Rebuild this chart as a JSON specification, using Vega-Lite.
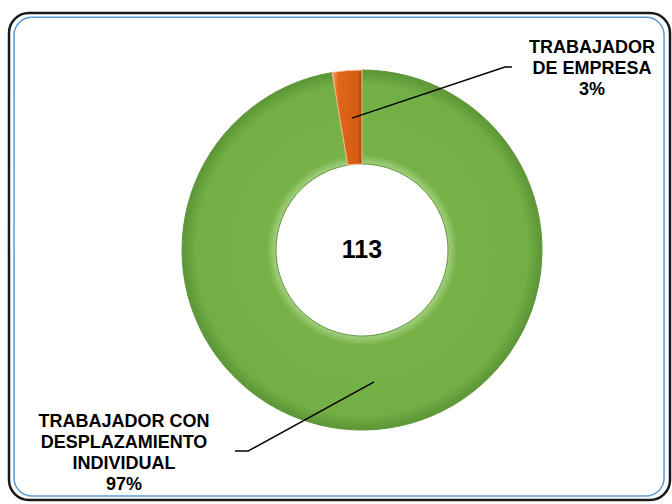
{
  "$schema": "https://vega.github.io/schema/vega-lite/v6.json",
  "autosize": {"type": "fit", "contains": "padding"},
  "width": 672,
  "height": 504,
  "padding": {"left": 9, "top": 13, "right": 2, "bottom": 4},
  "background": "white",
  "config": {
    "view": {"stroke": "#1a1a1a", "strokeWidth": 2.5, "cornerRadius": 20},
    "font": "Liberation Sans"
  },
  "datasets": {
    "frame": [{"x1": -1.933, "x2": 1.678, "y1": 1.294, "y2": -1.367}],
    "slices": [
      {"cat": "TRABAJADOR CON DESPLAZAMIENTO INDIVIDUAL", "n": 110, "ord": 1, "cx": 0, "cy": 0},
      {"cat": "TRABAJADOR DE EMPRESA", "n": 3, "ord": 2, "cx": 0, "cy": 0}
    ],
    "leaders": [
      {"g": "a", "i": 1, "x": -0.056, "y": 0.733},
      {"g": "a", "i": 2, "x": 0.794, "y": 1.017},
      {"g": "a", "i": 3, "x": 0.833, "y": 1.017},
      {"g": "b", "i": 1, "x": 0.067, "y": -0.733},
      {"g": "b", "i": 2, "x": -0.633, "y": -1.117},
      {"g": "b", "i": 3, "x": -0.706, "y": -1.117}
    ],
    "labels": [
      {"txt": "TRABAJADOR\nDE EMPRESA\n3%", "x": 1.278, "y": 1.094},
      {"txt": "TRABAJADOR CON\nDESPLAZAMIENTO\nINDIVIDUAL\n97%", "x": -1.322, "y": -0.983}
    ],
    "center": [{"txt": "113", "x": 0, "y": 0}]
  },
  "layer": [
    {
      "data": {"name": "frame"},
      "mark": {"type": "rect", "fill": "transparent", "stroke": "#5B9BD5", "strokeWidth": 1.5, "cornerRadius": 18},
      "encoding": {
        "x": {"field": "x1", "type": "quantitative", "scale": {"domain": [-1.961, 1.711], "nice": false, "zero": false}, "axis": null},
        "x2": {"field": "x2"},
        "y": {"field": "y1", "type": "quantitative", "scale": {"domain": [-1.389, 1.317], "nice": false, "zero": false}, "axis": null},
        "y2": {"field": "y2"}
      }
    },
    {
      "data": {"name": "slices"},
      "transform": [
        {"stack": "n", "groupby": [], "sort": [{"field": "ord"}], "as": ["t0", "t1"]},
        {"filter": "datum.ord == 1"}
      ],
      "mark": {"type": "arc", "outerRadius": 180, "innerRadius": 86, "stroke": "#5F9838", "strokeWidth": 1,
        "fill": {"gradient": "radial", "x1": 0.5, "y1": 0.5, "r1": 0, "x2": 0.5, "y2": 0.5, "r2": 0.5,
          "stops": [
            {"offset": 0, "color": "#9FCC7A"},
            {"offset": 0.478, "color": "#A3CF7F"},
            {"offset": 0.53, "color": "#76B247"},
            {"offset": 0.92, "color": "#72AF45"},
            {"offset": 1, "color": "#5C9536"}
          ]}},
      "encoding": {
        "theta": {"field": "t0", "type": "quantitative", "scale": {"domain": [0, 113], "range": [0, 6.283185307179586]}},
        "theta2": {"field": "t1"},
        "x": {"field": "cx", "type": "quantitative", "scale": {"domain": [-1.961, 1.711], "nice": false, "zero": false}, "axis": null},
        "y": {"field": "cy", "type": "quantitative", "scale": {"domain": [-1.389, 1.317], "nice": false, "zero": false}, "axis": null}
      }
    },
    {
      "data": {"name": "slices"},
      "transform": [
        {"stack": "n", "groupby": [], "sort": [{"field": "ord"}], "as": ["t0", "t1"]},
        {"filter": "datum.ord == 2"}
      ],
      "mark": {"type": "arc", "outerRadius": 180, "innerRadius": 86, "stroke": "#F2B48A", "strokeWidth": 1.2,
        "fill": {"gradient": "linear", "x1": 0, "y1": 0.5, "x2": 1, "y2": 0.5,
          "stops": [
            {"offset": 0, "color": "#F0A878"},
            {"offset": 0.2, "color": "#E0661A"},
            {"offset": 0.85, "color": "#D35D12"},
            {"offset": 1, "color": "#A4460B"}
          ]}},
      "encoding": {
        "theta": {"field": "t0", "type": "quantitative", "scale": {"domain": [0, 113], "range": [0, 6.283185307179586]}},
        "theta2": {"field": "t1"},
        "x": {"field": "cx", "type": "quantitative", "scale": {"domain": [-1.961, 1.711], "nice": false, "zero": false}, "axis": null},
        "y": {"field": "cy", "type": "quantitative", "scale": {"domain": [-1.389, 1.317], "nice": false, "zero": false}, "axis": null}
      }
    },
    {
      "data": {"name": "leaders"},
      "mark": {"type": "line", "color": "black", "strokeWidth": 1.5},
      "encoding": {
        "x": {"field": "x", "type": "quantitative", "scale": {"domain": [-1.961, 1.711], "nice": false, "zero": false}, "axis": null},
        "y": {"field": "y", "type": "quantitative", "scale": {"domain": [-1.389, 1.317], "nice": false, "zero": false}, "axis": null},
        "detail": {"field": "g", "type": "nominal"},
        "order": {"field": "i"}
      }
    },
    {
      "data": {"name": "labels"},
      "mark": {"type": "text", "fontWeight": "bold", "fontSize": 18, "lineBreak": "\n", "lineHeight": 21, "align": "center", "baseline": "alphabetic", "color": "black", "font": "Liberation Sans"},
      "encoding": {
        "text": {"field": "txt"},
        "x": {"field": "x", "type": "quantitative", "scale": {"domain": [-1.961, 1.711], "nice": false, "zero": false}, "axis": null},
        "y": {"field": "y", "type": "quantitative", "scale": {"domain": [-1.389, 1.317], "nice": false, "zero": false}, "axis": null}
      }
    },
    {
      "data": {"name": "center"},
      "mark": {"type": "text", "fontWeight": "bold", "fontSize": 25, "align": "center", "baseline": "middle", "color": "black", "font": "Liberation Sans"},
      "encoding": {
        "text": {"field": "txt"},
        "x": {"field": "x", "type": "quantitative", "scale": {"domain": [-1.961, 1.711], "nice": false, "zero": false}, "axis": null},
        "y": {"field": "y", "type": "quantitative", "scale": {"domain": [-1.389, 1.317], "nice": false, "zero": false}, "axis": null}
      }
    }
  ]
}
